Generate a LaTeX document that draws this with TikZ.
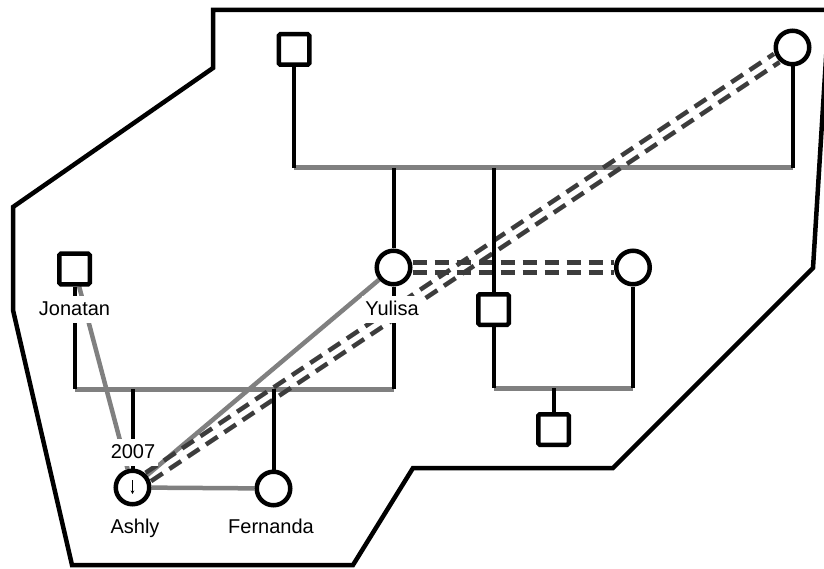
\documentclass[tikz,border=0pt]{standalone}
\usepackage{fontspec}
\setmainfont{Liberation Sans}
\usetikzlibrary{arrows.meta}
\definecolor{mg}{HTML}{808080}
\definecolor{dg}{HTML}{3C3C3C}
\pgfdeclarelayer{lone}
\pgfdeclarelayer{ltwo}
\pgfdeclarelayer{lthree}
\pgfsetlayers{lone,ltwo,lthree,main}
\begin{document}
\begin{tikzpicture}[x=1pt,y=-1pt,
  outline/.style={line width=4.5pt, line join=miter},
  sq/.style={draw, line width=4.5pt, fill=white, minimum size=30.5pt, inner sep=0pt, rounded corners=1.5pt},
  ci/.style={draw, circle, line width=4.5pt, fill=white, minimum size=33.5pt, inner sep=0pt},
  lbl/.style={fill=white, inner xsep=3pt, inner ysep=4pt, text height=15pt, text depth=4pt, font=\fontsize{20}{24}\selectfont, anchor=base},
  mline/.style={draw=mg, line width=5pt},
  dline/.style={draw=black, line width=4pt},
  rel/.style={draw=mg, line width=4.5pt},
  dash2/.style={draw=dg, line width=4.5pt, dash pattern=on 14pt off 8pt}]
\useasboundingbox (0,0) rectangle (824,569);

% persons
\node[sq] (ts) at (294,49.5) {};
\node[ci] (tc) at (792.5,47.5) {};
\node[ci] (yu) at (393.5,267.5) {};
\node[sq] (ms) at (493.5,309.5) {};
\node[ci] (rc) at (633,267.5) {};
\node[sq] (bs) at (553.5,429.5) {};
\node[sq] (jo) at (74.5,269) {};
\node[ci] (as) at (132.5,487.5) {};
\node[ci] (fe) at (273.5,488.5) {};

\coordinate (m1) at (0,168);
\coordinate (m2) at (0,388);
\coordinate (m3) at (0,389);

\begin{pgfonlayer}{lone}
  \draw[outline] (213,68) -- (213,10) -- (829,10) -- (813,268) -- (613,468) -- (413,468) -- (353,565) -- (72,565) -- (13,310) -- (13,207) -- cycle;
  \draw[mline] (ts |- m1) -- (tc |- m1);
  \draw[mline] (ms |- m2) -- (rc |- m2);
  \draw[mline] (jo |- m3) -- (yu |- m3);
\end{pgfonlayer}

\begin{pgfonlayer}{ltwo}
  \draw[rel] (jo) -- (as);
  \draw[rel] (as) -- (yu);
  \draw[rel] (as) -- (fe);
  \draw[dash2, transform canvas={shift={(-2.77pt,4.16pt)}}] (as) -- (tc);
  \draw[dash2, transform canvas={shift={(2.77pt,-4.16pt)}}] (as) -- (tc);
  \draw[dash2, transform canvas={shift={(0pt,5pt)}}] (yu) -- (rc);
  \draw[dash2, transform canvas={shift={(0pt,-5pt)}}] (yu) -- (rc);
\end{pgfonlayer}

\begin{pgfonlayer}{lthree}
  \draw[dline] (ts) -- (ts |- m1);
  \draw[dline] (tc) -- (tc |- m1);
  \draw[dline] (yu |- m1) -- (yu);
  \draw[dline] (ms |- m1) -- (ms);
  \draw[dline] (ms) -- (ms |- m2);
  \draw[dline] (rc) -- (rc |- m2);
  \draw[dline] (bs |- m2) -- (bs);
  \draw[dline] (jo) -- (jo |- m3);
  \draw[dline] (yu) -- (yu |- m3);
  \draw[dline] (as |- m3) -- (as);
  \draw[dline] (fe |- m3) -- (fe);
\end{pgfonlayer}

% marker inside Ashly
\coordinate (arrtop) at (132.5,480);
\coordinate (arrbot) at (132.5,494);
\draw[line width=1.2pt, -{Stealth[length=3.5pt,width=3.5pt]}] (arrtop) -- (arrbot);

% labels
\node[lbl] (ljo) at (74.5,315) {Jonatan};
\node[lbl] (lyu) at (392,315) {Yulisa};
\node[lbl] (l07) at (133,458) {2007};
\node[lbl] (las) at (135,533) {Ashly};
\node[lbl] (lfe) at (271,533) {Fernanda};
\end{tikzpicture}
\end{document}
